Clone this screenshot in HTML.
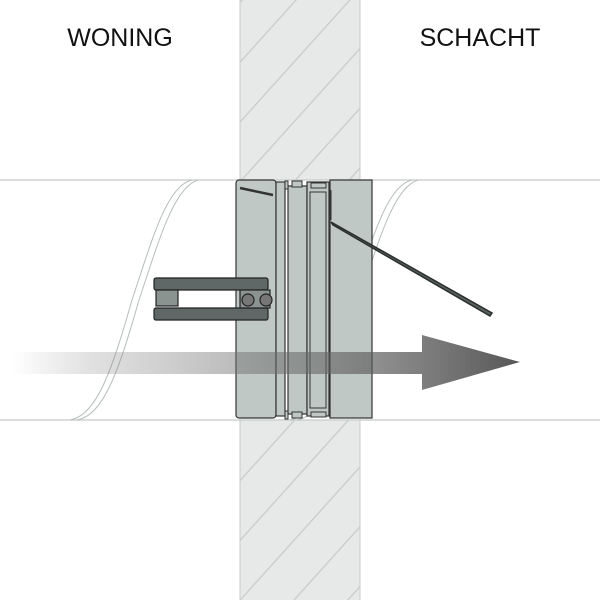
<!DOCTYPE html>
<html><head><style>html,body{margin:0;padding:0;background:#fff;width:600px;height:600px;overflow:hidden}svg{display:block}</style></head><body>
<svg width="600" height="600" viewBox="0 0 600 600" xmlns="http://www.w3.org/2000/svg" style="overflow:hidden">
<defs>
<pattern id="hatch" patternUnits="userSpaceOnUse" width="40" height="40" patternTransform="rotate(-48)">
<rect width="40" height="40" fill="#e7e9e8"/>
<line x1="0" y1="20" x2="40" y2="20" stroke="#c6cac8" stroke-width="1.2"/>
</pattern>
<linearGradient id="ag" x1="0" x2="1" y1="0" y2="0">
<stop offset="0" stop-color="#888" stop-opacity="0"/>
<stop offset="0.15" stop-color="#888" stop-opacity="0.25"/>
<stop offset="1" stop-color="#444" stop-opacity="0.9"/>
</linearGradient>
</defs>
<rect x="240" y="0" width="120" height="600" fill="url(#hatch)"/>
<line x1="240" y1="0" x2="240" y2="600" stroke="#c8ccca"/>
<line x1="360" y1="0" x2="360" y2="600" stroke="#c8ccca"/>
<rect x="0" y="180" width="600" height="240" fill="#fff"/>
<line x1="0" y1="180" x2="600" y2="180" stroke="#c6cac8" stroke-width="1.3"/>
<line x1="0" y1="420" x2="600" y2="420" stroke="#c6cac8" stroke-width="1.3"/>
<g fill="none" stroke="#b5bdbb" stroke-width="1">
<path d="M192 180 C167 185 152 240 132 300 C112 370 97 415 70 420"/>
<path d="M198 180 C174 187 159 240 139 300 C119 370 104 415 77 420"/>
<path d="M412 180 C387 185 372 240 352 300 C332 370 317 415 290 420"/>
<path d="M418 180 C394 187 379 240 359 300 C339 370 324 415 297 420"/>
</g>
<text x="120" y="46" font-family="Liberation Sans, sans-serif" font-size="25" text-anchor="middle" fill="#111">WONING</text>
<text x="480" y="46" font-family="Liberation Sans, sans-serif" font-size="25" text-anchor="middle" fill="#111">SCHACHT</text>
<g stroke="#333" stroke-width="1.2" fill="#c0c8c6">
<rect x="236" y="180" width="40" height="238" rx="3"/>
<rect x="276" y="182" width="9" height="234"/>
<rect x="288" y="186" width="19" height="228"/>
<rect x="307" y="182" width="22" height="234"/>
<rect x="330" y="180" width="42" height="238"/>
</g>
<g stroke="#333" stroke-width="1" fill="#c0c8c6">
<rect x="285" y="181" width="3" height="8"/><rect x="285" y="411" width="3" height="8"/>
<rect x="292" y="181" width="10" height="6"/><rect x="292" y="412" width="10" height="6"/>
<rect x="311" y="183" width="15" height="5"/><rect x="311" y="412" width="15" height="5"/>
<rect x="310" y="192" width="16" height="216" fill="none"/>
<line x1="331" y1="190" x2="331" y2="220"/>
</g>
<path d="M240 188 L273 195" stroke="#333" stroke-width="2.5"/>
<path d="M331 222 L333 225 L490 316 L492 313 Z" fill="#56605e" stroke="#2a2f2e" stroke-width="1.5"/>
<g stroke="#222" stroke-width="1.2" fill="#5f6866">
<rect x="154" y="278" width="114" height="12" rx="2"/>
<rect x="154" y="308" width="114" height="12" rx="2"/>
<rect x="156" y="290" width="22" height="16" fill="#8a9390"/>
<rect x="240" y="290" width="30" height="18" fill="#8a9390"/>
<circle cx="248" cy="300" r="6" fill="#777"/>
<circle cx="266" cy="300" r="6" fill="#777"/>
</g>
<path d="M12 352 L422 352 L422 335 L520 362 L422 390 L422 374 L12 374 Z" fill="url(#ag)"/>
</svg>
</body></html>
